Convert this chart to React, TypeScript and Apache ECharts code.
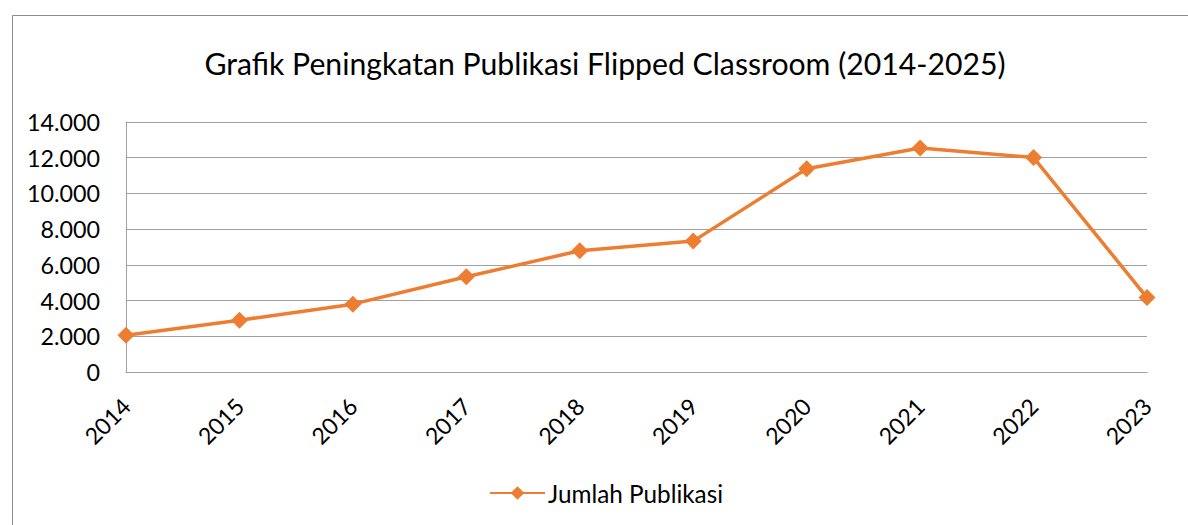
import React, { useEffect, useRef } from "react";
import * as echarts from "echarts";

const title = "Grafik Peningkatan Publikasi Flipped Classroom (2014-2025)";
const seriesName = "Jumlah Publikasi";
const years = ["2014", "2015", "2016", "2017", "2018", "2019", "2020", "2021", "2022", "2023"];
const publications = [2060, 2900, 3800, 5330, 6790, 7330, 11380, 12540, 12010, 4170];
const yMin = 0;
const yMax = 14000;
const yStep = 2000;

const FONT = "Lato";

export default function App() {
  const ref = useRef<HTMLDivElement>(null);
  useEffect(() => {
    document.body.style.margin = "0";
    if (!ref.current) return;
    const chart = echarts.init(ref.current, undefined, { renderer: "svg" });
    chart.setOption({
      animation: false,
      backgroundColor: "#ffffff",
      graphic: [
        {
          type: "rect",
          left: 10,
          top: 13,
          shape: { x: 0, y: 0, width: 1300, height: 700 },
          style: { fill: "none", stroke: "#8c8c8c", lineWidth: 1 },
          silent: true,
        },
      ],
      title: {
        text: title,
        left: 600,
        textAlign: "center",
        top: 43,
        textStyle: { fontFamily: FONT, fontSize: 30.2, fontWeight: "normal", color: "#000" },
      },
      legend: {
        data: [seriesName],
        left: 484,
        top: 476,
        itemWidth: 55,
        itemHeight: 17,
        itemGap: 4,
        textStyle: { fontFamily: FONT, fontSize: 24.3, color: "#000", padding: [0, 0, 0, -2] },
      },
      grid: { left: 126, right: 41, top: 122, bottom: 153, containLabel: false },
      xAxis: {
        type: "category",
        data: years,
        boundaryGap: false,
        axisLine: { show: true, lineStyle: { color: "#a0a0a0", width: 1 } },
        axisTick: { show: false },
        axisLabel: {
          rotate: 45,
          margin: 30,
          fontFamily: FONT,
          fontSize: 23,
          color: "#000",
        },
      },
      yAxis: {
        type: "value",
        min: yMin,
        max: yMax,
        interval: yStep,
        axisLine: { show: true, lineStyle: { color: "#a0a0a0", width: 1 } },
        axisTick: { show: false },
        splitLine: { show: true, lineStyle: { color: "#a0a0a0", width: 1 } },
        axisLabel: {
          margin: 26,
          fontFamily: FONT,
          fontSize: 23.3,
          color: "#000",
          formatter: (v: number) => v.toLocaleString("de-DE"),
        },
      },
      series: [
        {
          name: seriesName,
          type: "line",
          data: publications,
          symbol: "diamond",
          symbolSize: 17,
          color: "#ED7D31",
          lineStyle: { color: "#ED7D31", width: 3.5 },
          itemStyle: { color: "#ED7D31" },
        },
      ],
    });
    return () => chart.dispose();
  }, []);
  return <div ref={ref} style={{ width: 1188, height: 525 }} />;
}
